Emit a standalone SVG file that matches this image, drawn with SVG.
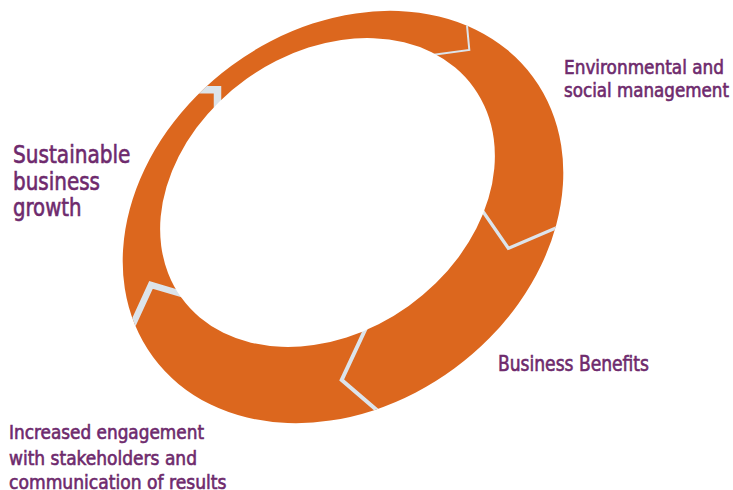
<svg xmlns="http://www.w3.org/2000/svg" width="733" height="490" viewBox="0 0 733 490">
<style>
.lbl{font-family:"DejaVu Sans Condensed","Liberation Sans Narrow","Liberation Sans",sans-serif;fill:#6E2A6D;stroke:#6E2A6D;stroke-width:0.6;font-stretch:condensed}
.sep{fill:none;stroke:#DCE4EB;stroke-linejoin:miter;stroke-linecap:butt;stroke-miterlimit:10}
</style>
<defs>
<clipPath id="outerClip"><ellipse cx="0" cy="0" rx="236" ry="188" transform="translate(343 217) rotate(-36.4)"/></clipPath>
</defs>
<rect width="733" height="490" fill="#FFFFFF"/>
<g id="ring">
<ellipse cx="0" cy="0" rx="236" ry="188" transform="translate(343 217) rotate(-36.4)" fill="#DC671E"/>
</g>
<g id="connectors" clip-path="url(#outerClip)">
<polyline class="sep" stroke-width="2" points="466,15 469.3,50 430,55.3"/>
<polyline class="sep" stroke-width="3.3" points="475,200 508.3,248.3 565,224"/>
<polyline class="sep" stroke-width="4" points="372,315 341.7,380 386,418"/>
<polyline class="sep" stroke-width="6.5" points="190,296.5 151,285 128,335"/>
<polyline class="sep" stroke-width="7.5" points="190,89.7 217.5,89.7 217.5,125"/>
</g>
<g id="hole">
<ellipse cx="0" cy="0" rx="180" ry="139.5" transform="translate(327.5 192.5) rotate(-35.6)" fill="#FFFFFF"/>
</g>
<g id="node-environmental">
<text class="lbl" font-size="20" x="564" y="74" textLength="160" lengthAdjust="spacingAndGlyphs">Environmental and</text>
<text class="lbl" font-size="20" x="564" y="97" textLength="165" lengthAdjust="spacingAndGlyphs">social management</text>
</g>
<g id="node-business-benefits">
<text class="lbl" font-size="21" x="498" y="371" textLength="151" lengthAdjust="spacingAndGlyphs">Business Benefits</text>
</g>
<g id="node-sustainable">
<text class="lbl" font-size="25" x="13" y="163" textLength="117.5" lengthAdjust="spacingAndGlyphs">Sustainable</text>
<text class="lbl" font-size="25" x="13" y="189.5" textLength="87" lengthAdjust="spacingAndGlyphs">business</text>
<text class="lbl" font-size="25" x="13" y="216" textLength="68.5" lengthAdjust="spacingAndGlyphs">growth</text>
</g>
<g id="node-engagement">
<text class="lbl" font-size="20" x="9" y="439" textLength="195" lengthAdjust="spacingAndGlyphs">Increased engagement</text>
<text class="lbl" font-size="20" x="9" y="464.5" textLength="188" lengthAdjust="spacingAndGlyphs">with stakeholders and</text>
<text class="lbl" font-size="20" x="9" y="489" textLength="217.5" lengthAdjust="spacingAndGlyphs">communication of results</text>
</g>
</svg>
